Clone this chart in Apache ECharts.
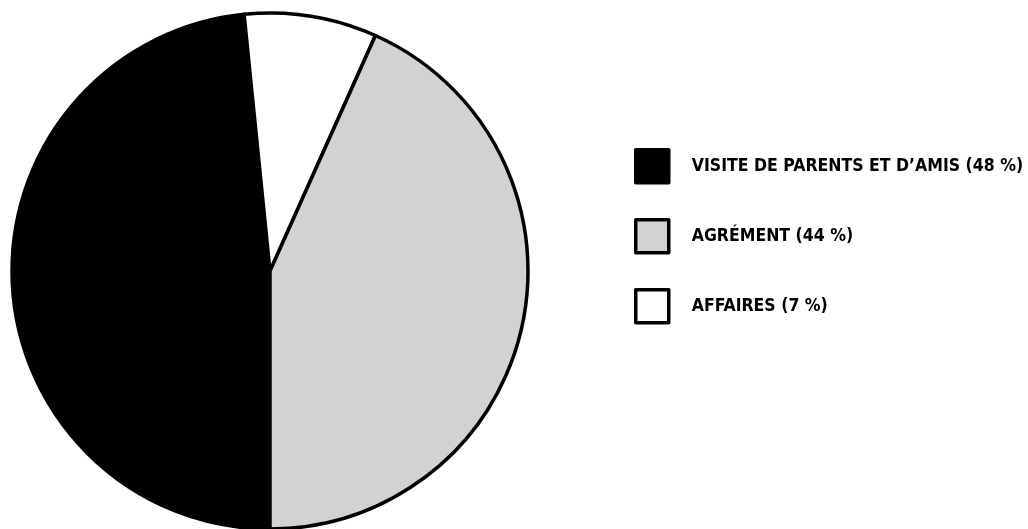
<!DOCTYPE html>
<html>
<head>
<meta charset="utf-8">
<script src="https://cdn.jsdelivr.net/npm/echarts@6/dist/echarts.min.js"></script>
<style>
html,body{margin:0;padding:0;background:#fff;}
#chart{width:1028px;height:529px;}
</style>
</head>
<body>
<div id="chart"></div>
<script>
// Categories in drawing order (clockwise from the bottom)
const categories = ["VISITE DE PARENTS ET D’AMIS", "AFFAIRES", "AGRÉMENT"];
// Slice shares (angles)
const sliceValues = [48.4, 8.3, 43.3];
// Printed percentages in the legend
const printedPct = [48, 7, 44];
const colors = ["#000000", "#ffffff", "#d1d2d4"];
// Legend order
const legendOrder = ["VISITE DE PARENTS ET D’AMIS", "AGRÉMENT", "AFFAIRES"];

const chart = echarts.init(document.getElementById('chart'));
const data = categories.map((c, i) => ({
  name: c, value: sliceValues[i], itemStyle: {color: colors[i]}
}));
const pctByName = {};
categories.forEach((c, i) => pctByName[c] = printedPct[i]);

chart.setOption({
  animation: false,
  legend: {
    orient: 'vertical',
    left: 629,
    top: 143,
    data: legendOrder,
    icon: 'rect',
    itemWidth: 33,
    itemHeight: 33,
    itemGap: 33.5,
    selectedMode: false,
    itemStyle: {borderColor: '#000', borderWidth: 3.5},
    textStyle: {
      fontFamily: '"DejaVu Sans Condensed", "Open Sans", sans-serif',
      fontWeight: 'bold',
      fontSize: 17.5,
      color: '#000',
      padding: [0, 0, 0, 18]
    },
    formatter: n => n + ' (' + pctByName[n] + ' %)'
  },
  series: [{
    type: 'pie',
    center: [270, 271],
    radius: [0, 258],
    startAngle: -90,
    clockwise: true,
    label: {show: false},
    labelLine: {show: false},
    emphasis: {disabled: true},
    itemStyle: {borderColor: '#000', borderWidth: 3.5},
    data: data
  }]
});
</script>
</body>
</html>
